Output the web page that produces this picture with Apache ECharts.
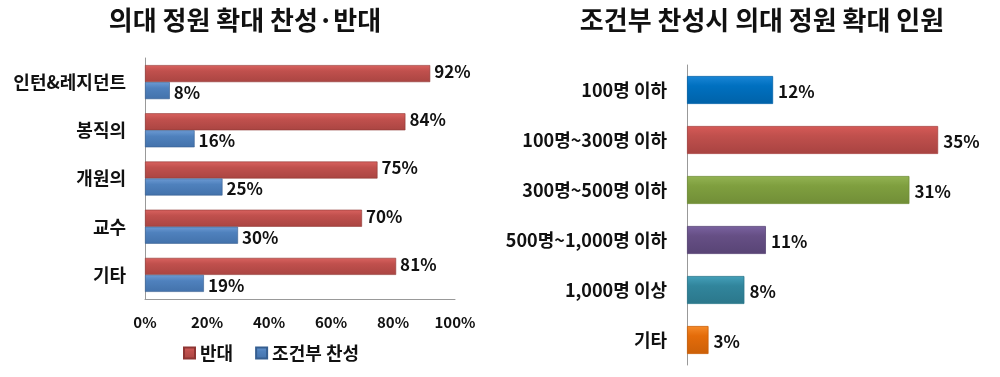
<!DOCTYPE html>
<html><head><meta charset="utf-8">
<script src="https://cdn.jsdelivr.net/npm/echarts@6/dist/echarts.min.js"></script>
<style>html,body{margin:0;padding:0;background:#fff}#c{width:1000px;height:377px}</style>
</head><body><div id="c"></div>
<script>
// Left chart data
const leftTitle = '의대 정원 확대 찬성·반대';
const leftCategories = ['인턴&레지던트', '봉직의', '개원의', '교수', '기타'];
const opposeName = '반대';
const opposeValues = [92, 84, 75, 70, 81];
const condName = '조건부 찬성';
const condValues = [8, 16, 25, 30, 19];
const leftTicks = [0, 20, 40, 60, 80, 100];

// Right chart data
const rightTitle = '조건부 찬성시 의대 정원 확대 인원';
const rightCategories = ['100명 이하', '100명~300명 이하', '300명~500명 이하', '500명~1,000명 이하', '1,000명 이상', '기타'];
const rightValues = [12, 35, 31, 11, 8, 3];

// styles
const rightColors = [
  ['#1A86D6', '#0070C0', '#0062A8'],
  ['#D65A57', '#C0504D', '#A84341'],
  ['#93B353', '#7F9F3F', '#718E37'],
  ['#7A62A0', '#664F85', '#584475'],
  ['#44A0BA', '#31859C', '#2B778B'],
  ['#F58A2A', '#E46C0A', '#CC6008']
];
const grad = c => new echarts.graphic.LinearGradient(0, 0, 0, 1, [
  {offset: 0, color: c[0]}, {offset: 0.35, color: c[1]}, {offset: 1, color: c[2]}
]);
const redC = ['#D9625F', '#C0504D', '#AA4542'];
const blueC = ['#6C9AD3', '#4F81BD', '#4372AB'];
const FONT = '"Noto Sans CJK KR", "Noto Sans", sans-serif';

const chart = echarts.init(document.getElementById('c'));
chart.setOption({
  animation: false,
  textStyle: {fontFamily: FONT},
  title: [
    {text: leftTitle, left: 240, top: 2, textAlign: 'center',
     textStyle: {fontFamily: FONT, fontSize: 26, fontWeight: 'bold', color: '#111'}},
    {text: rightTitle, left: 757, top: 2, textAlign: 'center',
     textStyle: {fontFamily: FONT, fontSize: 26, fontWeight: 'bold', color: '#111'}}
  ],
  legend: {
    data: [opposeName, condName],
    left: 178, top: 339,
    itemWidth: 11, itemHeight: 11, itemGap: 22,
    icon: 'rect',
    textStyle: {fontFamily: FONT, fontSize: 18, fontWeight: 'bold', color: '#111'}
  },
  grid: [
    {left: 145, top: 58, width: 310, height: 241, containLabel: false},
    {left: 687, top: 65, width: 287, height: 300, containLabel: false}
  ],
  xAxis: [
    {gridIndex: 0, type: 'value', min: 0, max: 100, interval: 20,
     axisLine: {show: true, lineStyle: {color: '#999'}},
     axisTick: {show: false}, splitLine: {show: false},
     axisLabel: {formatter: v => leftTicks.includes(v) ? v + '%' : '', margin: 16,
       fontFamily: FONT, fontSize: 15, fontWeight: 'bold', color: '#111'}},
    {gridIndex: 1, type: 'value', min: 0, max: 40, show: false, splitLine: {show: false}}
  ],
  yAxis: [
    {gridIndex: 0, type: 'category', data: leftCategories, inverse: true,
     axisLine: {show: true, lineStyle: {color: '#999'}}, axisTick: {show: false},
     axisLabel: {margin: 19, fontFamily: FONT, fontSize: 18, fontWeight: 'bold', color: '#111'}},
    {gridIndex: 1, type: 'category', data: rightCategories, inverse: true,
     axisLine: {show: true, lineStyle: {color: '#999'}}, axisTick: {show: false},
     axisLabel: {margin: 20, fontFamily: FONT, fontSize: 18, fontWeight: 'bold', color: '#111'}}
  ],
  series: [
    {name: opposeName, type: 'bar', xAxisIndex: 0, yAxisIndex: 0, data: opposeValues,
     barWidth: 17, barGap: '0%',
     itemStyle: {color: grad(redC), borderColor: '#8E3533', borderWidth: 0.6},
     label: {show: true, position: 'right', distance: 4, formatter: '{c}%',
       fontFamily: FONT, fontSize: 17, fontWeight: 'bold', color: '#111', offset: [0, -2]}},
    {name: condName, type: 'bar', xAxisIndex: 0, yAxisIndex: 0, data: condValues,
     barWidth: 17, barGap: '0%',
     itemStyle: {color: grad(blueC), borderColor: '#355E90', borderWidth: 0.6},
     label: {show: true, position: 'right', distance: 4, formatter: '{c}%',
       fontFamily: FONT, fontSize: 17, fontWeight: 'bold', color: '#111', offset: [0, 2]}},
    {name: 'right', type: 'bar', xAxisIndex: 1, yAxisIndex: 1,
     data: rightValues.map((v, i) => ({value: v, itemStyle: {color: grad(rightColors[i]), borderColor: rightColors[i][2], borderWidth: 0.8}})),
     barWidth: 28,
     label: {show: true, position: 'right', distance: 5, formatter: '{c}%',
       fontFamily: FONT, fontSize: 17, fontWeight: 'bold', color: '#111', offset: [0, 2]}}
  ]
});
</script>
</body></html>
